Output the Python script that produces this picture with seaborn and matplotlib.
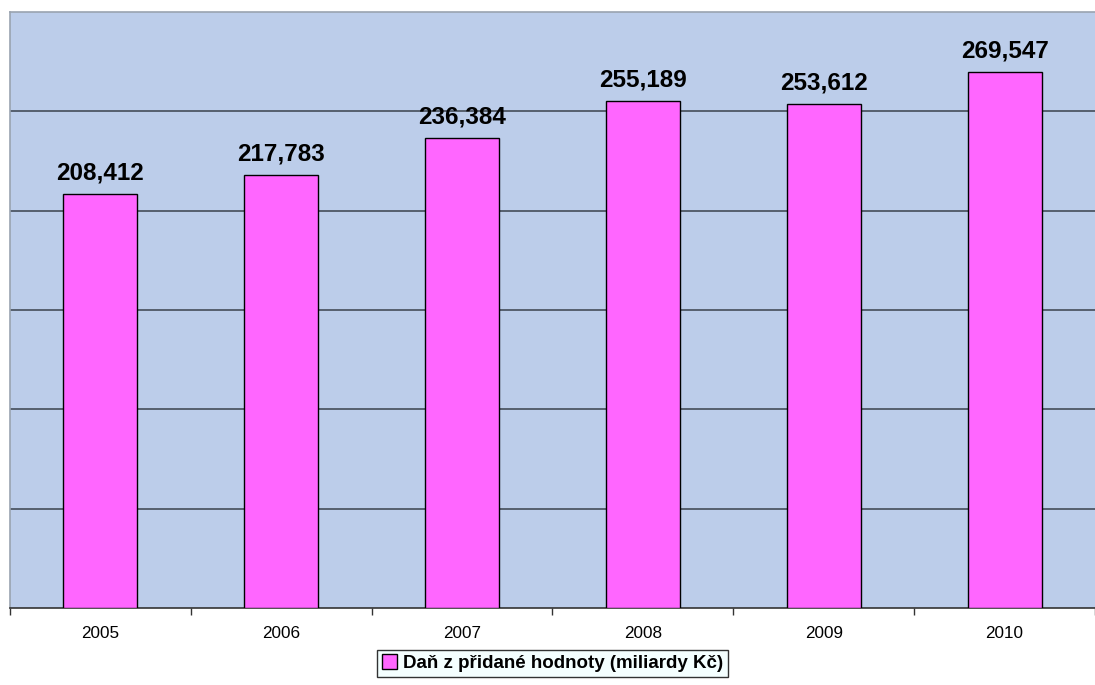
import numpy as np
import pandas as pd
import matplotlib
matplotlib.use("Agg")
import matplotlib.pyplot as plt
import seaborn as sns
from matplotlib.ticker import FixedLocator

# ==========================================
# DATA
# ==========================================

years = ["2005", "2006", "2007", "2008", "2009", "2010"]
vat = [208.412, 217.783, 236.384, 255.189, 253.612, 269.547]
series_name = "Daň z přidané hodnoty (miliardy Kč)"

df = pd.DataFrame({"rok": years, "dph": vat})

# ==========================================
# STYLE
# ==========================================

sns.set_style("white")
plt.rcParams["font.family"] = ["Liberation Sans", "DejaVu Sans"]
plt.rcParams["text.color"] = "black"
plt.rcParams["xtick.color"] = "black"
plt.rcParams["xtick.labelcolor"] = "black"

fig = plt.figure(figsize=(10.95, 6.85), dpi=100)
ax = fig.add_axes([10 / 1095, 77 / 685, 1085 / 1095, 596 / 685])
ax.set_facecolor("#bccdea")

sns.barplot(
    data=df,
    x="rok",
    y="dph",
    color="#ff66ff",
    saturation=1,
    width=0.41,
    edgecolor="black",
    linewidth=1.0,
    label=series_name,
    ax=ax,
    zorder=3
)

ax.set_ylim(0, 300)
ax.set_xlim(-0.5, len(years) - 0.5)
ax.set_yticks(np.arange(50, 300, 50))
ax.yaxis.grid(True, color="#56606e", linewidth=1.4, zorder=1)
ax.set_axisbelow(True)
ax.tick_params(axis="y", left=False, labelleft=False)

# category boundary ticks
ax.xaxis.set_minor_locator(FixedLocator(np.arange(-0.5, len(years), 1.0)))
ax.tick_params(axis="x", which="major", length=0, labelsize=12.3, pad=13,
               labelcolor="black")
ax.tick_params(axis="x", which="minor", length=5, width=1, color="#333333",
               direction="out", bottom=True)

ax.set_xlabel("")
ax.set_ylabel("")

for side in ["top", "left"]:
    ax.spines[side].set_color("#9aa3b0")
    ax.spines[side].set_linewidth(1.2)
ax.spines["right"].set_visible(False)
ax.spines["bottom"].set_color("#333333")
ax.spines["bottom"].set_linewidth(1.2)

# value labels
for container in ax.containers:
    ax.bar_label(
        container,
        labels=[f"{v:.3f}".replace(".", ",") for v in vat],
        padding=7,
        fontsize=17.5,
        fontweight="bold",
        color="black"
    )

leg = ax.legend(
    loc="upper center",
    bbox_to_anchor=(0.5, -0.07),
    frameon=True,
    fancybox=False,
    edgecolor="black",
    facecolor="#f2ffff",
    handlelength=0.8,
    handleheight=0.8,
    handletextpad=0.3,
    borderpad=0.25,
    borderaxespad=0,
    prop={"weight": "bold", "size": 13.5}
)
leg.get_frame().set_linewidth(1.0)
for t in leg.get_texts():
    t.set_color("black")

fig.savefig("out.png", dpi=100)
